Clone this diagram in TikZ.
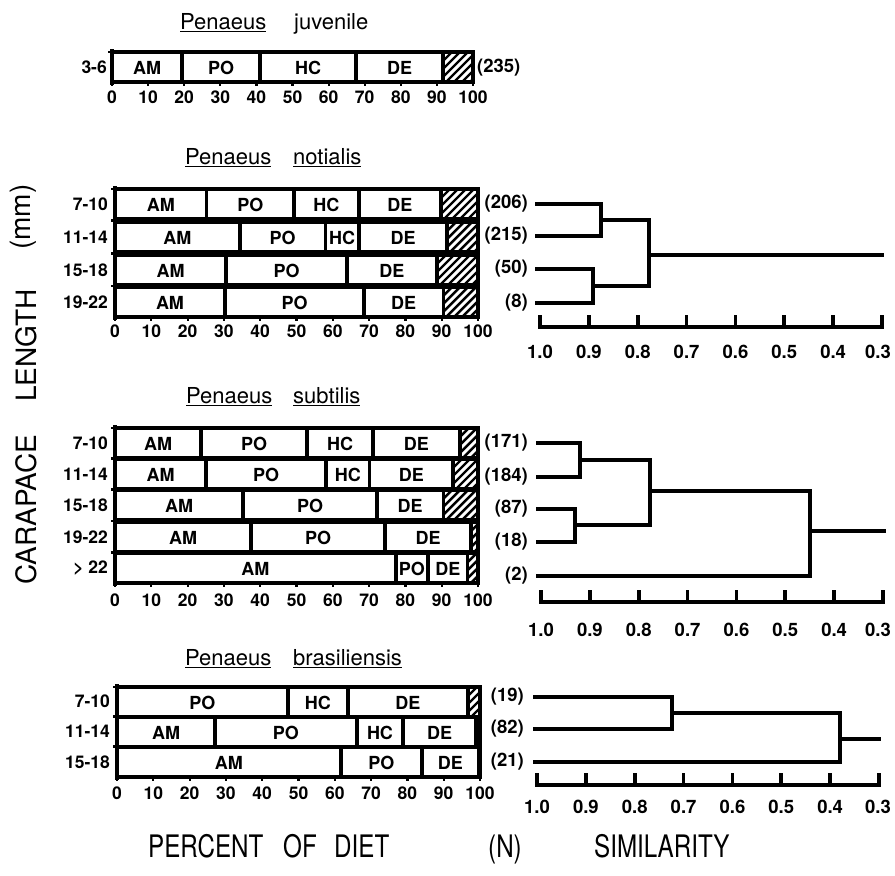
\documentclass[tikz,border=0pt]{standalone}
\usepackage{fontspec}
\setmainfont{TeX Gyre Heros}
\newfontfamily\condfont[FakeStretch=0.78]{TeX Gyre Heros}
\newcommand\fsz[1]{\fontsize{#1}{#1}\selectfont}
\tikzset{
  bar/.style={line width=3.3pt, fill=white},
  lab/.style={font=\fsz{18}\bfseries, inner sep=0pt},
  ticklab/.style={font=\fsz{17.5}\bfseries, inner sep=0pt},
  rowlab/.style={font=\fsz{17.5}\bfseries, inner sep=0pt, anchor=east},
  nlab/.style={font=\fsz{18.5}\bfseries, inner sep=0pt, anchor=east},
  dend/.style={line width=3.8pt, line cap=rect},
  axisline/.style={line width=3.4pt},
  titlefont/.style={font=\fsz{22}, inner sep=0pt, anchor=base west},
  biglab/.style={font=\condfont\fsz{31}, inner sep=0pt},
  vlab/.style={font=\fsz{28}, inner sep=0pt, rotate=90, anchor=south west},
}
\newcommand\seg[4]{%
  \draw[bar] ({\xo+#2*\sc},#1) rectangle ({\xo+#3*\sc},{#1+30});
  \node[lab] at ({\xo+(#2+#3)/2*\sc},{#1+15.5}) {#4};}
\newcommand\hatchseg[2]{%
  \begin{scope}
    \clip ({\xo+#2*\sc},#1) rectangle ({\xo+100*\sc},{#1+30});
    \foreach \k in {-45,-37,...,45} \draw[line width=2.4pt] ({\xo+#2*\sc+\k},{#1+30}) -- ++(40,-40);
  \end{scope}
  \draw[bar,fill=none] ({\xo+#2*\sc},#1) rectangle ({\xo+100*\sc},{#1+30});}
\newcommand\chartaxes[3]{% top, bottom, label y
  \draw[axisline] (\xo,{#1-3}) -- (\xo,{#2+3});
  \draw[axisline] (\xo,#2) -- ({\xo+100*\sc},#2);
  \foreach \v in {0,10,...,100} {
    \draw[line width=2.2pt] ({\xo+\v*\sc},#2) -- ++(0,3.5);
    \node[ticklab] at ({\xo+\v*\sc},#3) {\v};}}
\newcommand\lefttick[1]{\draw[line width=2.2pt] (\xo,#1) -- ++(-4,0);}
\newcommand\simaxis[4]{% x1, x2, y, label y
  \draw[dend] (#1,#3) -- (#2,#3);
  \foreach \i/\t in {0/1.0,1/0.9,2/0.8,3/0.7,4/0.6,5/0.5,6/0.4,7/0.3} {
    \draw[dend] ({#1+\i*(#2-#1)/7},#3) -- ++(0,-10);
    \pgfmathsetmacro\lx{min(#1+\i*(#2-#1)/7,878)}
    \node[ticklab, font=\fsz{18.5}\bfseries] at (\lx,#4) {\t};}}
\begin{document}
\begin{tikzpicture}[x=1pt,y=-1pt]
\useasboundingbox (0,0) rectangle (895,876);

% ---------- titles
\node[titlefont] (tj1) at (180,29) {\underline{Penaeus}};
\node[titlefont] (tj2) at (294,29) {juvenile};
\node[titlefont] (tn1) at (185,164) {\underline{Penaeus}};
\node[titlefont] (tn2) at (293,164) {\underline{notialis}};
\node[titlefont] (ts1) at (186,403) {\underline{Penaeus}};
\node[titlefont] (ts2) at (293,403) {\underline{subtilis}};
\node[titlefont] (tb1) at (185,665) {\underline{Penaeus}};
\node[titlefont] (tb2) at (293,665) {\underline{brasiliensis}};

% ---------- juvenile
\def\xo{112}\def\sc{3.61}
\seg{52}{0}{19.4}{AM}\seg{52}{19.4}{41}{PO}\seg{52}{41}{67.6}{HC}\seg{52}{67.6}{91.7}{DE}\hatchseg{52}{91.7}
\chartaxes{52}{82}{97}
\lefttick{52}
\node[rowlab] (rj) at (107,67) {3-6};
\node[font=\fsz{18.5}\bfseries, inner sep=0pt, anchor=west] (nj) at (477,68) {(235)};

% ---------- notialis
\def\xo{115}\def\sc{3.63}
\seg{189}{0}{25.3}{AM}\seg{189}{25.3}{49.3}{PO}\seg{189}{49.3}{67.2}{HC}\seg{189}{67.2}{89.8}{DE}\hatchseg{189}{89.8}
\seg{222}{0}{34.4}{AM}\seg{222}{34.4}{57.9}{PO}\seg{222}{57.9}{67.2}{HC}\seg{222}{67.2}{91.5}{DE}\hatchseg{222}{91.5}
\seg{255}{0}{30.6}{AM}\seg{255}{30.6}{63.9}{PO}\seg{255}{63.9}{88.7}{DE}\hatchseg{255}{88.7}
\seg{287}{0}{30.3}{AM}\seg{287}{30.3}{68.6}{PO}\seg{287}{68.6}{90.4}{DE}\hatchseg{287}{90.4}
\chartaxes{189}{317}{331}
\lefttick{189}\lefttick{220.5}\lefttick{253.5}\lefttick{286}
\node[rowlab] (rn1) at (108,204) {7-10};
\node[rowlab] (rn2) at (108,237) {11-14};
\node[rowlab] (rn3) at (108,270) {15-18};
\node[rowlab] (rn4) at (108,302) {19-22};

% notialis dendrogram
\node[nlab] (n206) at (528,204) {(206)};
\node[nlab] (n215) at (528,236) {(215)};
\node[nlab] (n50) at (528,269) {(50)};
\node[nlab] (n8) at (528,303) {(8)};
\draw[dend] (537,204) -- (601,204) -- (601,236) -- (537,236);
\draw[dend] (537,269) -- (593,269) -- (593,303) -- (537,303);
\draw[dend] (601,220) -- (649,220) -- (649,286) -- (593,286);
\draw[dend] (649,255) -- (882,255);
\simaxis{540}{882}{327}{352}

% ---------- subtilis
\def\xo{115}\def\sc{3.63}
\seg{428}{0}{23.7}{AM}\seg{428}{23.7}{52.9}{PO}\seg{428}{52.9}{71.1}{HC}\seg{428}{71.1}{95}{DE}\hatchseg{428}{95}
\seg{459}{0}{25.1}{AM}\seg{459}{25.1}{58.1}{PO}\seg{459}{58.1}{70.2}{HC}\seg{459}{70.2}{93.1}{DE}\hatchseg{459}{93.1}
\seg{490}{0}{35.3}{AM}\seg{490}{35.3}{72.2}{PO}\seg{490}{72.2}{90.4}{DE}\hatchseg{490}{90.4}
\seg{522}{0}{37.5}{AM}\seg{522}{37.5}{74.4}{PO}\seg{522}{74.4}{98.1}{DE}\hatchseg{522}{98.1}
\seg{553}{0}{77.4}{AM}\seg{553}{77.4}{86.2}{PO}\seg{553}{86.2}{97.2}{DE}\hatchseg{553}{97.2}
\chartaxes{428}{583}{600}
\lefttick{428}\lefttick{458.5}\lefttick{489.5}\lefttick{521}\lefttick{552.5}
\node[rowlab] (rs1) at (108,443) {7-10};
\node[rowlab] (rs2) at (108,474) {11-14};
\node[rowlab] (rs3) at (108,505) {15-18};
\node[rowlab] (rs4) at (108,537) {19-22};
\node[rowlab] (rs5) at (108,568) {> 22};

% subtilis dendrogram
\node[nlab] (n171) at (528,443) {(171)};
\node[nlab] (n184) at (528,477) {(184)};
\node[nlab] (n87) at (528,509) {(87)};
\node[nlab] (n18) at (528,542) {(18)};
\node[nlab] (n2) at (528,576) {(2)};
\draw[dend] (538,443) -- (580,443) -- (580,477) -- (538,477);
\draw[dend] (538,509) -- (575,509) -- (575,542) -- (538,542);
\draw[dend] (580,460) -- (650,460) -- (650,525) -- (575,525);
\draw[dend] (650,491) -- (810,491) -- (810,576) -- (538,576);
\draw[dend] (810,531) -- (884,531);
\simaxis{541}{883}{602}{630}

% ---------- brasiliensis
\def\xo{117}\def\sc{3.63}
\seg{687}{0}{47.1}{PO}\seg{687}{47.1}{63.6}{HC}\seg{687}{63.6}{96.7}{DE}\hatchseg{687}{96.7}
\seg{717}{0}{27}{AM}\seg{717}{27}{66.1}{PO}\seg{717}{66.1}{78.8}{HC}\seg{717}{78.8}{98.9}{DE}\hatchseg{717}{98.9}
\seg{747}{0}{61.7}{AM}\seg{747}{61.7}{84}{PO}\seg{747}{84}{99.7}{DE}\hatchseg{747}{99.7}
\chartaxes{687}{777}{793}
\lefttick{687}\lefttick{716.5}\lefttick{746.5}
\node[rowlab] (rb1) at (110,701) {7-10};
\node[rowlab] (rb2) at (110,731) {11-14};
\node[rowlab] (rb3) at (110,762) {15-18};

% brasiliensis dendrogram
\node[nlab] (n19) at (524,697) {(19)};
\node[nlab] (n82) at (524,729) {(82)};
\node[nlab] (n21) at (524,762) {(21)};
\draw[dend] (535,697) -- (672,697) -- (672,729) -- (535,729);
\draw[dend] (672,713) -- (840,713) -- (840,762) -- (535,762);
\draw[dend] (840,739) -- (879,739);
\simaxis{537}{879}{785}{807}

% ---------- axis titles
\node[vlab] (vcar) at (37,585) {CARAPACE};
\node[vlab] (vlen) at (37,402) {LENGTH};
\node[vlab] (vmm) at (37,250) {(mm)};
\node[biglab, anchor=base west] (bp) at (148,857) {PERCENT};
\node[biglab, anchor=base west] (bo) at (283,857) {OF};
\node[biglab, anchor=base west] (bd) at (334,857) {DIET};
\node[biglab, anchor=base west] (bn) at (488,857) {(N)};
\node[biglab, anchor=base west] (bs) at (594,857) {SIMILARITY};
\end{tikzpicture}
\end{document}
